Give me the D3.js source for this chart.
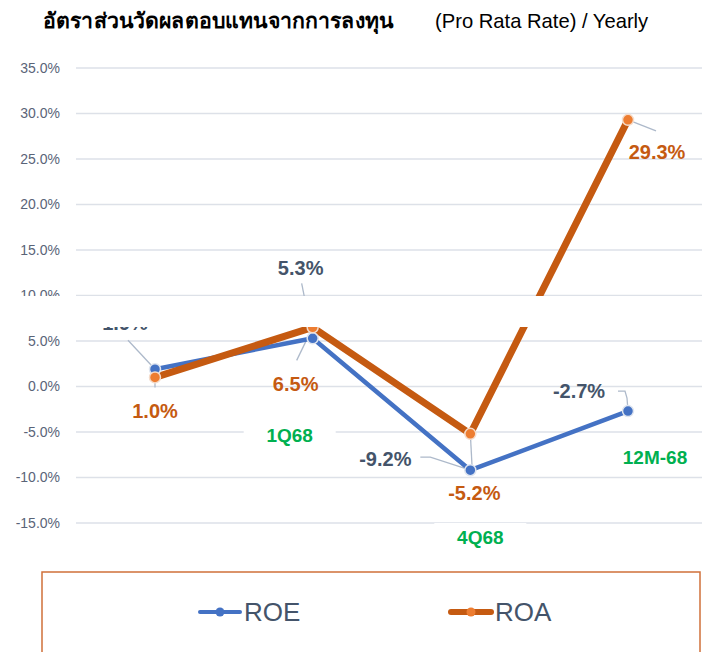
<!DOCTYPE html>
<meta charset="utf-8">
<head>
<script src="https://d3js.org/d3.v7.min.js"></script>
<style>
  body { margin: 0; background: #fff; }
  text { font-family: "Liberation Sans", Arial, sans-serif; }
</style>
</head>
<body>
<div id="chart"></div>
<script>

// data
var categories = ["4Q67", "1Q68", "4Q68", "12M-68"];
var catLabels = ["", "1Q68", "4Q68", "12M-68"];
var roe = [1.9, 5.3, -9.2, -2.7];
var roa = [1.0, 6.5, -5.2, 29.3];
var yTicks = [-15, -10, -5, 0, 5, 10, 15, 20, 25, 30, 35];

// label placement (pixels, relative to each point)
var roeLabelOff = [[-30, -46], [-12, -70], [-85, -11], [-49, -20]];
var roeLeader   = [[[-27, -29]], [[-11, -55]], [[-40, -13], [-50, -13]], [[-1, -13], [-3, -20], [-10, -20]]];
var roaLabelOff = [[0, 33], [-17, 56], [4, 59], [29, 32]];
var roaLeader   = [[[0, 10]], [[-16, 33]], [[2, 38]], [[28, 11]]];
var catLabelPos = [[0, 0], [-23, 435], [10, 537], [27, 457]];

var pct = function(d) { return d.toFixed(1) + "%"; };

var W = 702, H = 652;
var svg = d3.select("#chart").append("svg")
    .attr("width", W).attr("height", H);

// title
svg.append("text")
    .attr("x", 43).attr("y", 28)
    .attr("font-size", 21).attr("fill", "#000")
    .attr("textLength", 350).attr("lengthAdjust", "spacingAndGlyphs")
    .style("font-weight", 600)
    .text("อัตราส่วนวัดผลตอบแทนจากการลงทุน");
svg.append("text")
    .attr("x", 435).attr("y", 28)
    .attr("font-size", 20.2).attr("fill", "#000")
    .text("(Pro Rata Rate) / Yearly");

// scales
var x = d3.scalePoint().domain(categories).range([155, 628]);
var y = d3.scaleLinear().domain([-15, 35]).range([523, 68]);

// grid
svg.append("g").selectAll("line").data(yTicks).enter().append("line")
    .attr("x1", 76).attr("x2", W)
    .attr("y1", function(d) { return y(d); })
    .attr("y2", function(d) { return y(d); })
    .attr("stroke", "#dde1e8").attr("stroke-width", 1.5);

// y axis labels
var yAxis = svg.append("g")
    .attr("transform", "translate(68,0)")
    .call(d3.axisLeft(y).tickValues(yTicks).tickSize(0).tickPadding(8).tickFormat(pct));
yAxis.select(".domain").remove();
yAxis.selectAll("text")
    .attr("font-family", "'Open Sans', sans-serif")
    .attr("font-size", 14).attr("fill", "#5a6478");

// category labels with white boxes
var cat = svg.append("g").selectAll("g").data(categories).enter()
  .filter(function(d, i) { return catLabels[i] !== ""; })
  .append("g")
    .attr("transform", function(d) {
      var i = categories.indexOf(d);
      return "translate(" + (x(d) + catLabelPos[i][0]) + "," + catLabelPos[i][1] + ")";
    });
cat.append("rect")
    .attr("x", -46).attr("y", -14).attr("width", 92).attr("height", 28)
    .attr("fill", "#fff");
cat.append("text")
    .attr("text-anchor", "middle").attr("dy", "0.35em")
    .attr("font-family", "'Open Sans', sans-serif")
    .attr("font-weight", 600).attr("font-size", 19).attr("fill", "#00b050")
    .text(function(d) { return catLabels[categories.indexOf(d)]; });

// leader lines
function leaders(vals, leads, color) {
  svg.append("g").selectAll("path").data(vals).enter().append("path")
    .attr("fill", "none").attr("stroke", color).attr("stroke-width", 1.3)
    .attr("d", function(d, i) {
      var px = x(categories[i]), py = y(d);
      var pts = [[px, py]].concat(leads[i].map(function(o) { return [px + o[0], py + o[1]]; }));
      return d3.line()(pts);
    });
}
leaders(roe, roeLeader, "#adb9ca");
leaders(roa, roaLeader, "#adb9ca");

// lines
var line = d3.line()
    .x(function(d, i) { return x(categories[i]); })
    .y(function(d) { return y(d); });

svg.append("path").datum(roe)
    .attr("fill", "none").attr("stroke", "#4472c4").attr("stroke-width", 4.5)
    .attr("stroke-linejoin", "round").attr("d", line);
svg.append("path").datum(roa)
    .attr("fill", "none").attr("stroke", "#c55a11").attr("stroke-width", 7)
    .attr("stroke-linejoin", "round").attr("d", line);

// markers
svg.append("g").selectAll("circle").data(roe).enter().append("circle")
    .attr("cx", function(d, i) { return x(categories[i]); })
    .attr("cy", function(d) { return y(d); })
    .attr("r", 5.5).attr("fill", "#4472c4")
    .attr("stroke", "#dfe5ef").attr("stroke-width", 1.5);
svg.append("g").selectAll("circle").data(roa).enter().append("circle")
    .attr("cx", function(d, i) { return x(categories[i]); })
    .attr("cy", function(d) { return y(d); })
    .attr("r", 5.5).attr("fill", "#ed7d31")
    .attr("stroke", "#f4dccb").attr("stroke-width", 1.5);

// data labels
function dataLabels(vals, offs, color) {
  svg.append("g").selectAll("text").data(vals).enter().append("text")
    .attr("x", function(d, i) { return x(categories[i]) + offs[i][0]; })
    .attr("y", function(d, i) { return y(d) + offs[i][1]; })
    .attr("text-anchor", "middle").attr("dy", "0.36em")
    .attr("font-size", 20).attr("font-weight", "bold").attr("fill", color)
    .text(pct);
}
dataLabels(roe, roeLabelOff, "#44546a");
dataLabels(roa, roaLabelOff, "#c55a11");

// white band laid over the plot
svg.append("rect")
    .attr("x", 0).attr("y", 296).attr("width", W).attr("height", 31)
    .attr("fill", "#fff");

// legend
svg.append("rect")
    .attr("x", 42).attr("y", 572).attr("width", 658).attr("height", 120)
    .attr("fill", "#fff").attr("stroke", "#d0703a").attr("stroke-width", 1.5);

var legend = [
  {name: "ROE", line: "#4472c4", dot: "#4472c4", w: 4, x: 200},
  {name: "ROA", line: "#c55a11", dot: "#ed7d31", w: 6, x: 451}
];
var lg = svg.append("g").selectAll("g").data(legend).enter().append("g")
    .attr("transform", function(d) { return "translate(" + d.x + ",612)"; });
lg.append("line")
    .attr("x1", 0).attr("x2", 40)
    .attr("stroke", function(d) { return d.line; })
    .attr("stroke-width", function(d) { return d.w; })
    .attr("stroke-linecap", "round");
lg.append("circle")
    .attr("cx", 20).attr("r", 4.5)
    .attr("fill", function(d) { return d.dot; });
lg.append("text")
    .attr("x", 44).attr("dy", "0.36em")
    .attr("font-family", "Roboto, sans-serif")
    .attr("font-size", 26).attr("fill", "#44546a")
    .text(function(d) { return d.name; });

</script>
</body>
</html>
